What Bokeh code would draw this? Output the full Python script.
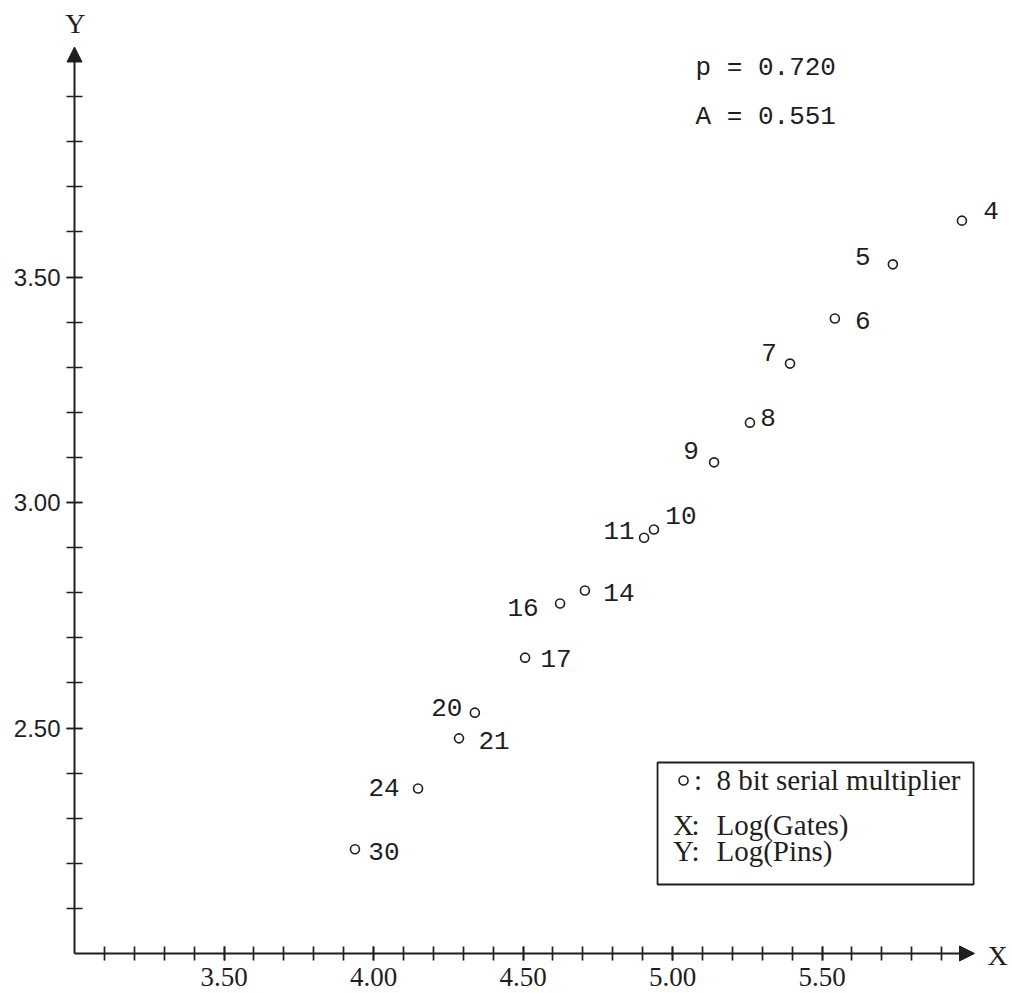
from bokeh.plotting import figure
from bokeh.models import (FixedTicker, Arrow, NormalHead, Label, BoxAnnotation,
                          ColumnDataSource, LinearAxis)
from bokeh.embed import file_html
from bokeh.resources import INLINE
from bokeh.core.properties import value

# ---------------- data ----------------
point_labels = ["4", "5", "6", "7", "8", "9", "10", "11", "14", "16", "17", "20", "21", "24", "30"]
log_gates = [5.968, 5.737, 5.543, 5.393, 5.259, 5.139, 4.938, 4.905, 4.707, 4.624, 4.507, 4.339, 4.286, 4.149, 3.938]
log_pins = [3.625, 3.528, 3.408, 3.308, 3.177, 3.089, 2.940, 2.922, 2.805, 2.776, 2.656, 2.534, 2.477, 2.366, 2.231]

fit_texts = ["p = 0.720", "A = 0.551"]

x_major = [3.5, 4.0, 4.5, 5.0, 5.5]
x_tick_labels = ["3.50", "4.00", "4.50", "5.00", "5.50"]
x_minor = [3.1, 3.2, 3.3, 3.4, 3.5, 3.6, 3.7, 3.8, 3.9, 4.0, 4.1, 4.2, 4.3, 4.4, 4.5,
           4.6, 4.7, 4.8, 4.9, 5.0, 5.1, 5.2, 5.3, 5.4, 5.5, 5.6, 5.7, 5.8, 5.9]
y_major = [2.5, 3.0, 3.5]
y_tick_labels = ["2.50", "3.00", "3.50"]
y_minor = [2.1, 2.2, 2.3, 2.4, 2.5, 2.6, 2.7, 2.8, 2.9, 3.0, 3.1, 3.2, 3.3, 3.4, 3.5,
           3.6, 3.7, 3.8, 3.9]

legend_marker_text = "8 bit serial multiplier"
legend_keys = ["X", "Y"]
legend_vals = ["Log(Gates)", "Log(Pins)"]

# ---------------- layout / style ----------------
INK = "#1e1e1e"
PX_X = 299.0   # pixels per x unit
PX_Y = 451.0   # pixels per y unit
OX, OY = 74, 953   # screen position of the axes origin
W, H = 1012, 993

# label offsets (screen pixels) relative to each point
lab_dx = [29, -30, 28, -21, 18, -23, 27, -25, 34, -37, 31, -28, 35, -34, 29]
lab_dy = [-10, -8, 2, -11, -5, -12, -14, -7, 2, 4, 1, -5, 2, -1, 2]

x0, y0 = 3.0, 2.0
p = figure(width=W, height=H,
           x_range=(x0 - OX / PX_X, x0 + (W - OX) / PX_X),
           y_range=(y0 - (H - OY) / PX_Y, y0 + OY / PX_Y),
           x_axis_type=None, y_axis_type=None,
           output_backend="svg", toolbar_location=None,
           min_border=0)
p.grid.visible = False
p.outline_line_color = None
p.background_fill_color = "white"
p.border_fill_color = "white"

xax = LinearAxis(fixed_location=y0)
yax = LinearAxis(fixed_location=x0)
p.add_layout(xax, "below")
p.add_layout(yax, "left")

for ax, maj, mino, labs, tin, font, fs in ((xax, x_major, x_minor, x_tick_labels, 7, "Liberation Serif", "27px"),
                                           (yax, y_major, y_minor, y_tick_labels, 8, "Liberation Sans", "24px")):
    ax.ticker = FixedTicker(ticks=maj, minor_ticks=mino)
    ax.major_label_overrides = {v: s for v, s in zip(maj, labs)}
    ax.axis_line_color = None
    ax.major_tick_in = tin
    ax.major_tick_out = tin
    ax.minor_tick_in = tin
    ax.minor_tick_out = tin
    ax.major_tick_line_color = INK
    ax.minor_tick_line_color = INK
    ax.major_tick_line_width = 1.7
    ax.minor_tick_line_width = 1.7
    ax.major_label_text_font = font
    ax.major_label_text_font_size = fs
    ax.major_label_text_font_style = "normal"
    ax.major_label_text_color = INK

xax.major_label_standoff = 7
yax.major_label_standoff = 6

# axes lines with arrow heads
p.add_layout(Arrow(end=NormalHead(size=15, fill_color=INK, line_color=INK),
                   x_start=x0, y_start=y0, x_end=6.01, y_end=y0,
                   line_width=2, line_color=INK))
p.add_layout(Arrow(end=NormalHead(size=15, fill_color=INK, line_color=INK),
                   x_start=x0, y_start=y0, x_end=x0, y_end=4.01,
                   line_width=2, line_color=INK))

p.add_layout(Label(x=6.087, y=1.9956, text="X", text_font="Liberation Serif",
                   text_font_size="28px", text_align="center", text_baseline="middle",
                   text_color=INK))
p.add_layout(Label(x=3.003, y=4.062, text="Y", text_font="Liberation Serif",
                   text_font_size="28px", text_align="center", text_baseline="middle",
                   text_color=INK))

# data points
src = ColumnDataSource(dict(x=log_gates, y=log_pins, lab=point_labels, dx=lab_dx, dy=lab_dy))
p.scatter("x", "y", source=src, marker="circle", size=9, fill_color="white",
          line_color=INK, line_width=1.6)
p.text("x", "y", text="lab", source=src, x_offset="dx", y_offset="dy",
       text_font=value("Liberation Mono"), text_font_size="26px",
       text_align="center", text_baseline="middle", text_color=INK)

# fit parameters
p.text(x=[5.077, 5.077], y=[3.9645, 3.8537], text=fit_texts,
       text_font=value("Liberation Mono"), text_font_size="26px",
       text_align="left", text_baseline="middle", text_color=INK)

# legend box
p.add_layout(BoxAnnotation(left=4.950, right=6.007, top=2.4235, bottom=2.153,
                           fill_color=None, line_color=INK, line_alpha=1.0, line_width=1.8))
row_y = [2.3836, 2.2860, 2.2262]
p.scatter(x=[5.037], y=[row_y[0]], marker="circle", size=9, fill_color="white",
          line_color=INK, line_width=1.6)
p.text(x=[5.0368, 5.0368], y=row_y[1:], text=legend_keys,
       text_font=value("Liberation Serif"), text_font_size="29px",
       text_align="center", text_baseline="middle", text_color=INK)
p.text(x=[5.085, 5.0769, 5.0769], y=row_y, text=[":", ":", ":"],
       text_font=value("Liberation Serif"), text_font_size="29px",
       text_align="center", text_baseline="middle", text_color=INK)
p.text(x=[5.147, 5.147, 5.147], y=row_y, text=[legend_marker_text] + legend_vals,
       text_font=value("Liberation Serif"), text_font_size="29px",
       text_align="left", text_baseline="middle", text_color=INK)

open("out.html", "w").write(file_html(p, INLINE))
